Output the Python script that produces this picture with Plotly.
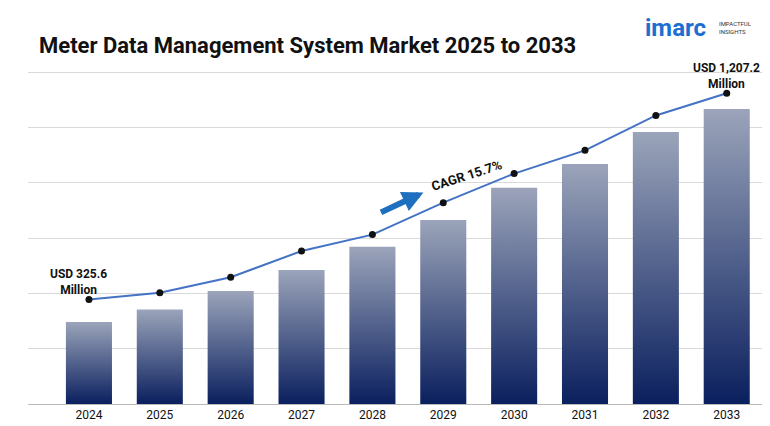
import plotly.graph_objects as go

years = ["2024", "2025", "2026", "2027", "2028", "2029", "2030", "2031", "2032", "2033"]
bar_values = [335, 387, 462, 548, 643, 753, 884, 982, 1112, 1207]
line_values = [325.6, 354.6, 420.8, 532.6, 602.9, 739.5, 863.7, 963.0, 1112.0, 1207.2]

fig = go.Figure()

# gradient bars drawn as filled scatter polygons
half = 0.325
for i, v in enumerate(bar_values):
    fig.add_trace(go.Scatter(
        x=[i - half, i + half, i + half, i - half, i - half],
        y=[0, 0, v, v, 0],
        mode="lines", line=dict(width=0), fill="toself",
        fillgradient=dict(type="vertical",
                          colorscale=[[0, "#0a1f5e"], [1, "#9ba4ba"]]),
        hoverinfo="skip", showlegend=False,
    ))

fig.add_trace(go.Scatter(
    x=list(range(len(years))), y=line_values, yaxis="y2",
    mode="lines+markers", line=dict(color="#4472c4", width=2),
    marker=dict(color="#111111", size=7), showlegend=False,
))

fig.add_annotation(x=0, y=line_values[0], yref="y2", text="<b>USD 325.6<br>Million</b>",
                   showarrow=False, xshift=-10, yanchor="bottom",
                   font=dict(size=12, color="#111"))
fig.add_annotation(x=9, y=line_values[-1], yref="y2", text="<b>USD 1,207.2<br>Million</b>",
                   showarrow=False, yanchor="bottom", font=dict(size=12, color="#111"))
fig.add_annotation(x=4.72, y=865, ax=4.1, ay=781, xref="x", yref="y", axref="x", ayref="y",
                   showarrow=True, arrowhead=2, arrowsize=0.7, arrowwidth=6, arrowcolor="#1f6fc0", text="")
fig.add_annotation(x=5.33, y=935, text="<b>CAGR 15.7%</b>", showarrow=False, textangle=-18,
                   font=dict(size=13, color="#111"))

fig.add_annotation(x=0.012, y=1.076, xref="paper", yref="paper", xanchor="left", yanchor="middle",
                   text="<b>Meter Data Management System Market 2025 to 2033</b>",
                   showarrow=False, font=dict(size=22, color="#111"))
fig.add_annotation(x=0.835, y=1.13, xref="paper", yref="paper", xanchor="left", yanchor="middle",
                   text="<b>imarc</b>", showarrow=False, font=dict(size=24, color="#1c6fd1"))
fig.add_annotation(x=0.935, y=1.13, xref="paper", yref="paper", xanchor="left", yanchor="middle",
                   text="IMPACTFUL<br>INSIGHTS", showarrow=False, align="left",
                   font=dict(size=6, color="#333"))

fig.update_layout(
    width=770, height=426, paper_bgcolor="white", plot_bgcolor="white",
    margin=dict(l=20, r=13, t=63, b=19),
    font=dict(family="Roboto, Arial, sans-serif"),
    xaxis=dict(range=[-0.86, 9.54], tickvals=list(range(len(years))), ticktext=years,
               tickfont=dict(size=12, color="#111", family="Roboto"), showgrid=False,
               zeroline=False, showline=True, linecolor="#bbb", fixedrange=True),
    yaxis=dict(range=[0, 1362], tickvals=[226.17 * k for k in range(1, 7)], showgrid=True,
               gridcolor="#d9d9d9", showticklabels=False, zeroline=False),
    yaxis2=dict(range=[-121, 1302], overlaying="y", visible=False),
)

fig.write_html("out.html")
